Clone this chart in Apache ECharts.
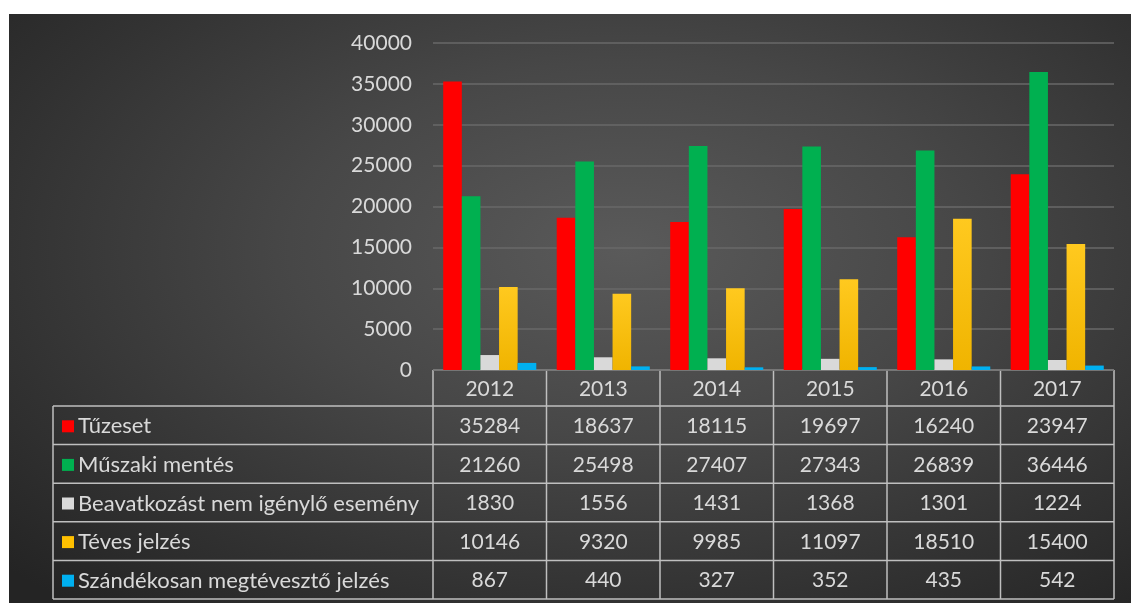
<!DOCTYPE html>
<html>
<head>
<meta charset="utf-8">
<script src="https://cdn.jsdelivr.net/npm/echarts@6/dist/echarts.min.js"></script>
<style>
  html, body { margin: 0; padding: 0; background: #fff; }
  #wrap {
    position: absolute; left: 9px; top: 14px; width: 1122px; height: 589px;
    background: radial-gradient(ellipse 75% 80% at 55% 40%, #5a5a5a 0%, #474747 40%, #323232 75%, #242424 100%);
  }
  #main { position: absolute; left: 0; top: 0; width: 1131px; height: 603px; }
</style>
</head>
<body>
<div id="wrap"></div>
<div id="main"></div>
<script>
// adatok
var years = ['2012', '2013', '2014', '2015', '2016', '2017']
var seriesNames = ['Tűzeset', 'Műszaki mentés', 'Beavatkozást nem igénylő esemény', 'Téves jelzés', 'Szándékosan megtévesztő jelzés']
var tuzeset = [35284, 18637, 18115, 19697, 16240, 23947]
var muszaki = [21260, 25498, 27407, 27343, 26839, 36446]
var beavatkozas = [1830, 1556, 1431, 1368, 1301, 1224]
var teves = [10146, 9320, 9985, 11097, 18510, 15400]
var szandekos = [867, 440, 327, 352, 435, 542]
var colors = ['#ff0000', '#00b050', '#d9d9d9', '#ffc000', '#00b0f0']

var allData = [tuzeset, muszaki, beavatkozas, teves, szandekos]

var chart = echarts.init(document.getElementById('main'))

// elrendezés
var gLeft = 433, gTop = 43, gWidth = 681, gHeight = 327
var tableLeft = 53, rowH = 38.6, headH = 36
var colW = gWidth / years.length
var textColor = '#d9d9d9'
var lineColor = '#bfbfbf'
var font = 'Lato, "Open Sans", sans-serif'

var graphics = []
var axisY = gTop + gHeight
var headBottom = axisY + headH
var tableBottom = headBottom + rowH * seriesNames.length

// függőleges vonalak
for (var i = 0; i <= years.length; i++) {
  graphics.push({
    type: 'line', silent: true,
    shape: { x1: gLeft + i * colW, y1: axisY, x2: gLeft + i * colW, y2: tableBottom },
    style: { stroke: lineColor, lineWidth: 1.5 }
  })
}
graphics.push({
  type: 'line', silent: true,
  shape: { x1: tableLeft, y1: headBottom, x2: tableLeft, y2: tableBottom },
  style: { stroke: lineColor, lineWidth: 1.5 }
})
// vízszintes vonalak
graphics.push({
  type: 'line', silent: true,
  shape: { x1: gLeft, y1: axisY, x2: gLeft + gWidth, y2: axisY },
  style: { stroke: lineColor, lineWidth: 1.5 }
})
for (var r = 0; r <= seriesNames.length; r++) {
  var y = headBottom + r * rowH
  graphics.push({
    type: 'line', silent: true,
    shape: { x1: tableLeft, y1: y, x2: gLeft + gWidth, y2: y },
    style: { stroke: lineColor, lineWidth: 1.5 }
  })
}
// fejléc évek
years.forEach(function (yr, i) {
  graphics.push({
    type: 'text', silent: true,
    x: gLeft + (i + 0.5) * colW, y: axisY + headH / 2 + 1,
    style: { text: yr, fill: textColor, font: '21px ' + font, align: 'center', verticalAlign: 'middle' }
  })
})
// sorok
seriesNames.forEach(function (name, r) {
  var cy = headBottom + (r + 0.5) * rowH + 1
  graphics.push({
    type: 'rect', silent: true,
    shape: { x: 62, y: cy - 6, width: 12, height: 12 },
    style: { fill: colors[r] }
  })
  graphics.push({
    type: 'text', silent: true,
    x: 78, y: cy,
    style: { text: name, fill: textColor, font: '22px ' + font, align: 'left', verticalAlign: 'middle' }
  })
  allData[r].forEach(function (v, i) {
    graphics.push({
      type: 'text', silent: true,
      x: gLeft + (i + 0.5) * colW, y: cy,
      style: { text: String(v), fill: textColor, font: '21px ' + font, align: 'center', verticalAlign: 'middle' }
    })
  })
})

var series = seriesNames.map(function (name, k) {
  var color = colors[k]
  if (k === 3) {
    color = new echarts.graphic.LinearGradient(0, 0, 0, 1, [
      { offset: 0, color: '#ffc91f' },
      { offset: 1, color: '#f0b400' }
    ])
  }
  return {
    name: name,
    type: 'bar',
    data: allData[k],
    barGap: '0%',
    barCategoryGap: '18%',
    itemStyle: { color: color },
    animation: false
  }
})

chart.setOption({
  backgroundColor: 'transparent',
  grid: { left: gLeft, top: gTop, width: gWidth, height: gHeight, containLabel: false },
  xAxis: {
    type: 'category',
    data: years,
    axisLine: { show: false },
    axisTick: { show: false },
    axisLabel: { show: false }
  },
  yAxis: {
    type: 'value',
    min: 0,
    max: 40000,
    interval: 5000,
    axisLine: { show: false },
    axisTick: { show: false },
    axisLabel: {
      color: textColor, fontSize: 21, fontFamily: font, margin: 21,
      formatter: function (v) { return String(v) }
    },
    splitLine: { lineStyle: { color: '#686868', width: 1.5 } }
  },
  series: series,
  graphic: graphics
})
</script>
</body>
</html>
